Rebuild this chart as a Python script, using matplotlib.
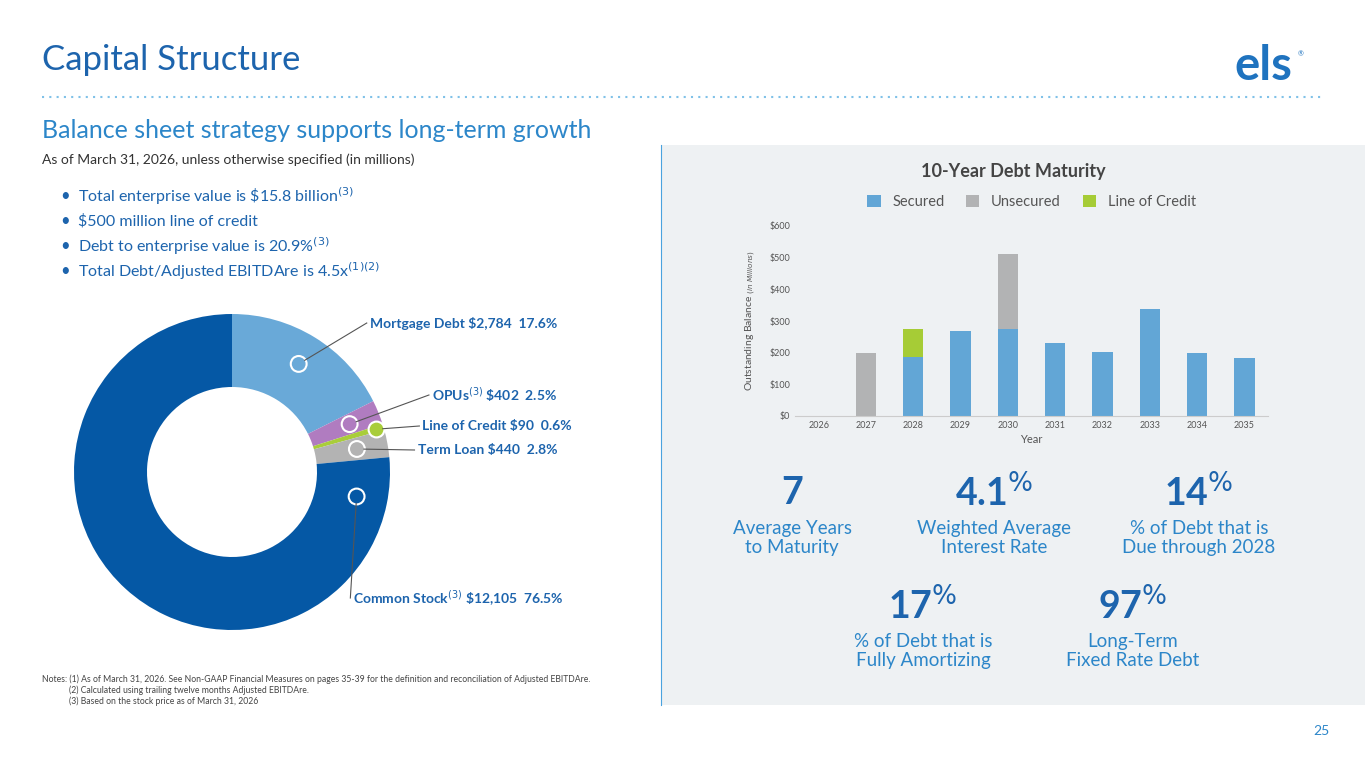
import numpy as np
import matplotlib.pyplot as plt
from matplotlib.patches import Rectangle

plt.rcParams['font.family'] = ['Lato', 'DejaVu Sans']

# donut data
seg_labels = ['Mortgage Debt \\$2,784', 'OPUs$^{(3)}$ \\$402', 'Line of Credit \\$90', 'Term Loan \\$440', 'Common Stock$^{(3)}$ \\$12,105']
seg_pcts = [17.6, 2.5, 0.6, 2.8, 76.5]
seg_colors = ['#69a9d8', '#b07cc0', '#a9cd3a', '#b3b3b3', '#0558a5']
marker_frac = [0.5, 0.5, 0.5, 0.5, 0.06]
label_pos = [(557, 323), (557, 395), (572, 426), (557, 450), (564, 598)]

# bar data
years = ['2026', '2027', '2028', '2029', '2030', '2031', '2032', '2033', '2034', '2035']
secured = [0, 0, 186, 269, 275, 229, 201, 338, 198, 184]
unsecured = [0, 200, 0, 0, 238, 0, 0, 0, 0, 0]
loc_credit = [0, 0, 90, 0, 0, 0, 0, 0, 0, 0]

W, H = 1365, 768
fig = plt.figure(figsize=(W / 100, H / 100), dpi=100)
fig.patch.set_facecolor('white')


def px(x, y):
    return x / W, 1 - y / H


DARK = '#1d64ad'
MID = '#2c86c9'

# right panel (as a background axes)
bg = fig.add_axes([661 / W, 1 - 705 / H, 704 / W, 560 / H], zorder=0)
bg.set_facecolor('#eef1f3')
bg.set_xticks([])
bg.set_yticks([])
for s in bg.spines.values():
    s.set_visible(False)
bg.spines['left'].set_visible(True)
bg.spines['left'].set_color('#4aa3df')

fig.lines.append(plt.Line2D([42 / W, 1322 / W], [1 - 97 / H] * 2, transform=fig.transFigure,
                            color='#7fc1e8', lw=1.5, ls=(0, (1, 2.5))))

fig.text(*px(42, 60), 'Capital Structure', fontsize=25, color=DARK, va='center')
fig.text(*px(1263, 66), 'els', fontsize=34, fontweight='bold', color='#1f73bf', va='center', ha='center')
fig.text(*px(1301, 54), '®', fontsize=5, color='#1f73bf', va='center', ha='center')
fig.text(*px(42, 131), 'Balance sheet strategy supports long-term growth', fontsize=18, color=MID, va='center')
fig.text(*px(42, 160), 'As of March 31, 2026, unless otherwise specified (in millions)', fontsize=10, color='#333333', va='center')

bullets = ['Total enterprise value is \\$15.8 billion$^{(3)}$', '\\$500 million line of credit',
           'Debt to enterprise value is 20.9%$^{(3)}$', 'Total Debt/Adjusted EBITDAre is 4.5x$^{(1)(2)}$']
for i, b in enumerate(bullets):
    y = 196 + i * 25
    fig.text(*px(60, y), '•', fontsize=12, color=DARK, va='center')
    fig.text(*px(78, y), b, fontsize=11.5, color=DARK, va='center')

notes = ['Notes: (1) As of March 31, 2026. See Non-GAAP Financial Measures on pages 35-39 for the definition and reconciliation of Adjusted EBITDAre.',
         '            (2) Calculated using trailing twelve months Adjusted EBITDAre.',
         '            (3) Based on the stock price as of March 31, 2026']
for i, n in enumerate(notes):
    fig.text(*px(42, 679 + i * 11), n, fontsize=6.2, color='#444444', va='center')
fig.text(*px(1330, 731), '25', fontsize=10, color=MID, ha='right', va='center')

# donut
cx, cy, R = 232, 472, 170
axd = fig.add_axes([(cx - R) / W, 1 - (cy + R) / H, 2 * R / W, 2 * R / H])
axd.pie(seg_pcts, colors=seg_colors, startangle=90, counterclock=False,
        radius=158 / R, wedgeprops=dict(width=73 / R, edgecolor='none'))
axd.set_xlim(-1, 1)
axd.set_ylim(-1, 1)
axd.axis('off')
cum = 0
for lab, p, col, mf, (lx, ly) in zip(seg_labels, seg_pcts, seg_colors, marker_frac, label_pos):
    mid = np.deg2rad(90 - (cum + p * mf) * 3.6)
    cum += p
    r = 127 if p > 2 else 150
    mx, my = cx + r * np.cos(mid), cy - r * np.sin(mid)
    fc = col if p < 1 else 'none'
    axd.scatter([(mx - cx) / R], [(cy - my) / R], s=130, facecolor=fc, edgecolor='white', lw=1.5, zorder=5)
    t = fig.text(*px(lx, ly), f'{lab}  {p:.1f}%', fontsize=10, fontweight='bold', color=DARK, ha='right', va='center')
    fig.canvas.draw()
    bb = t.get_window_extent()
    tx = bb.x0 - 3
    ang = np.arctan2(ly - my, tx - mx)
    sx, sy = mx + 7 * np.cos(ang), my + 7 * np.sin(ang)
    fig.lines.append(plt.Line2D([sx / W, tx / W], [1 - sy / H, 1 - ly / H],
                                transform=fig.transFigure, color='#555555', lw=0.8))

# bar chart
fig.text(*px(1013, 172), '10-Year Debt Maturity', fontsize=13, fontweight='bold', color='#444444', ha='center', va='center')
ax = fig.add_axes([795 / W, 1 - 416 / H, 473 / W, 190 / H], zorder=2)
ax.set_facecolor('#eef1f3')
x = np.arange(len(years))
sec = np.array(secured)
uns = np.array(unsecured)
ax.bar(x, sec, 0.43, color='#62a6d6', label='Secured')
ax.bar(x, uns, 0.43, bottom=sec, color='#b2b3b4', label='Unsecured')
ax.bar(x, loc_credit, 0.43, bottom=sec + uns, color='#a6cc36', label='Line of Credit')
ax.set_ylim(0, 600)
ax.set_xlim(-0.5, 9.5)
ax.set_yticks(range(0, 601, 100))
ax.set_yticklabels([f'${v}' for v in range(0, 601, 100)])
ax.set_xticks(x)
ax.set_xticklabels(years)
ax.tick_params(labelsize=6.5, colors='#555555', length=0)
for s in ['top', 'right', 'left']:
    ax.spines[s].set_visible(False)
ax.spines['bottom'].set_color('#cccccc')
ax.set_xlabel('Year', fontsize=8, color='#555555', labelpad=3)
ax.set_ylabel('Outstanding Balance $_{(in\\ Millions)}$', fontsize=7.5, color='#555555', labelpad=8)
ax.legend(loc='lower center', bbox_to_anchor=(0.5, 1.02), ncol=3, frameon=False, fontsize=10.5,
          handlelength=0.9, handleheight=0.9, columnspacing=1.5, labelcolor='#555555')

stats = [(792, 'Average Years\nto Maturity', '7', False), (994, 'Weighted Average\nInterest Rate', '4.1', True),
         (1199, '% of Debt that is\nDue through 2028', '14', True), (923, '% of Debt that is\nFully Amortizing', '17', True),
         (1133, 'Long-Term\nFixed Rate Debt', '97', True)]
for sx, lab, num, pct in stats:
    top = 493 if sx in (792, 994, 1199) else 606
    s = num + ('$^{\\%}$' if pct else '')
    fig.text(*px(sx, top), s, fontsize=27, fontweight='bold', color=DARK, ha='center', va='center')
    fig.text(*px(sx, top + 45), lab, fontsize=13.5, color=MID, ha='center', va='center', linespacing=1.2)

fig.savefig('out.png', dpi=100)
